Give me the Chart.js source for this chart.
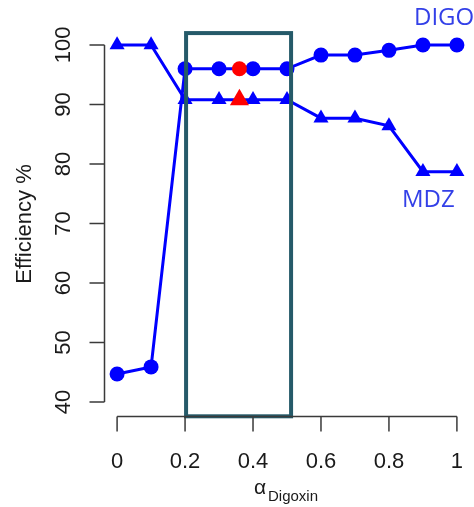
<!DOCTYPE html>
<html>
<head>
<meta charset="utf-8">
<script src="https://cdn.jsdelivr.net/npm/chart.js@4"></script>
<style>
  body { margin: 0; background: #fff; }
  canvas { display: block; }
</style>
</head>
<body>
<canvas id="chart" width="474" height="507"></canvas>
<script>
// Données
const alphaValues = [0, 0.1, 0.2, 0.3, 0.4, 0.5, 0.6, 0.7, 0.8, 0.9, 1];
const digoxinEff = [44.7, 45.9, 96, 96, 96, 96, 98.3, 98.3, 99.1, 100, 100];
const mdzEff = [100, 100, 90.8, 90.8, 90.8, 90.8, 87.7, 87.7, 86.4, 78.7, 78.7];
const optimumAlpha = [0.36];
const optimumDigoxin = [96];
const optimumMdz = [90.8];
const xTicks = [0, 0.2, 0.4, 0.6, 0.8, 1];
const yTicks = [40, 50, 60, 70, 80, 90, 100];
// zone encadrée (en unités des données)
const boxX = [0.203, 0.512];
const boxY = [37.6, 102];

const toPoints = (xs, ys) => xs.map((x, i) => ({ x: x, y: ys[i] }));

// Axes façon R dessinés à partir des échelles de Chart.js
const rAxes = {
    id: 'rAxes',
    afterDatasetsDraw(chart) {
        const ctx = chart.ctx;
        const xs = chart.scales.x;
        const ys = chart.scales.y;
        const area = chart.chartArea;

        // rectangle
        ctx.save();
        ctx.strokeStyle = '#255a69';
        ctx.lineWidth = 4;
        const rx0 = xs.getPixelForValue(boxX[0]);
        const rx1 = xs.getPixelForValue(boxX[1]);
        const ry0 = ys.getPixelForValue(boxY[1]);
        const ry1 = ys.getPixelForValue(boxY[0]);
        ctx.strokeRect(rx0, ry0, rx1 - rx0, ry1 - ry0);
        ctx.restore();

        ctx.save();
        ctx.strokeStyle = '#3a3a3a';
        ctx.lineWidth = 1.5;
        ctx.fillStyle = '#1a1a1a';
        ctx.font = '22px "Liberation Sans", Arial, sans-serif';

        // axe x
        const yAxis = Math.round(area.bottom) + 0.5;
        ctx.beginPath();
        ctx.moveTo(xs.getPixelForValue(xTicks[0]), yAxis);
        ctx.lineTo(xs.getPixelForValue(xTicks[xTicks.length - 1]), yAxis);
        xTicks.forEach(t => {
            const px = xs.getPixelForValue(t);
            ctx.moveTo(px, yAxis);
            ctx.lineTo(px, yAxis + 15);
        });
        ctx.stroke();
        ctx.textAlign = 'center';
        ctx.textBaseline = 'middle';
        xTicks.forEach(t => {
            ctx.fillText(String(t), xs.getPixelForValue(t), 462);
        });

        // axe y
        const xAxis = Math.round(area.left) + 0.5;
        ctx.beginPath();
        ctx.moveTo(xAxis, ys.getPixelForValue(yTicks[0]));
        ctx.lineTo(xAxis, ys.getPixelForValue(yTicks[yTicks.length - 1]));
        yTicks.forEach(t => {
            const py = ys.getPixelForValue(t);
            ctx.moveTo(xAxis, py);
            ctx.lineTo(xAxis - 15, py);
        });
        ctx.stroke();
        yTicks.forEach(t => {
            ctx.save();
            ctx.translate(64, ys.getPixelForValue(t));
            ctx.rotate(-Math.PI / 2);
            ctx.fillText(String(t), 0, 0);
            ctx.restore();
        });

        // titre y
        ctx.save();
        ctx.translate(25, 224);
        ctx.rotate(-Math.PI / 2);
        ctx.fillText('Efficiency %', 0, 0);
        ctx.restore();

        // titre x : alpha avec indice
        ctx.textAlign = 'left';
        ctx.textBaseline = 'alphabetic';
        ctx.font = '21px "Liberation Sans", Arial, sans-serif';
        ctx.fillText('α', 254, 494);
        ctx.font = '15px "Liberation Sans", Arial, sans-serif';
        ctx.fillText('Digoxin', 268, 501);

        // étiquettes des séries
        ctx.fillStyle = '#3340e8';
        ctx.font = '24px "Open Sans", sans-serif';
        ctx.textBaseline = 'middle';
        ctx.fillText('DIGO', 414, 18);
        ctx.fillText('MDZ', 402, 200);
        ctx.restore();
    }
};

new Chart(document.getElementById('chart'), {
    type: 'line',
    data: {
        datasets: [
            {
                label: 'Optimum DIGO',
                data: toPoints(optimumAlpha, optimumDigoxin),
                showLine: false,
                pointStyle: 'circle',
                pointRadius: 7.5,
                backgroundColor: '#ff0000',
                borderColor: '#ff0000',
                borderWidth: 0,
                order: 0
            },
            {
                label: 'Optimum MDZ',
                data: toPoints(optimumAlpha, optimumMdz),
                showLine: false,
                pointStyle: 'triangle',
                pointRadius: 11,
                backgroundColor: '#ff0000',
                borderColor: '#ff0000',
                borderWidth: 0,
                order: 0
            },
            {
                label: 'DIGO',
                data: toPoints(alphaValues, digoxinEff),
                borderColor: '#0000ff',
                backgroundColor: '#0000ff',
                borderWidth: 3,
                pointStyle: 'circle',
                pointRadius: 7.5,
                pointBorderWidth: 0,
                tension: 0,
                order: 1
            },
            {
                label: 'MDZ',
                data: toPoints(alphaValues, mdzEff),
                borderColor: '#0000ff',
                backgroundColor: '#0000ff',
                borderWidth: 3,
                pointStyle: 'triangle',
                pointRadius: 8.7,
                pointBorderWidth: 0,
                tension: 0,
                order: 2
            }
        ]
    },
    options: {
        responsive: false,
        animation: false,
        layout: { autoPadding: false, padding: { left: 103.5, right: 3.5, top: 30.7, bottom: 90.7 } },
        scales: {
            x: { type: 'linear', min: -0.04, max: 1.04, display: false },
            y: { type: 'linear', min: 37.6, max: 102.4, display: false }
        },
        plugins: {
            legend: { display: false },
            tooltip: { enabled: false }
        }
    },
    plugins: [rAxes]
});
</script>
</body>
</html>
